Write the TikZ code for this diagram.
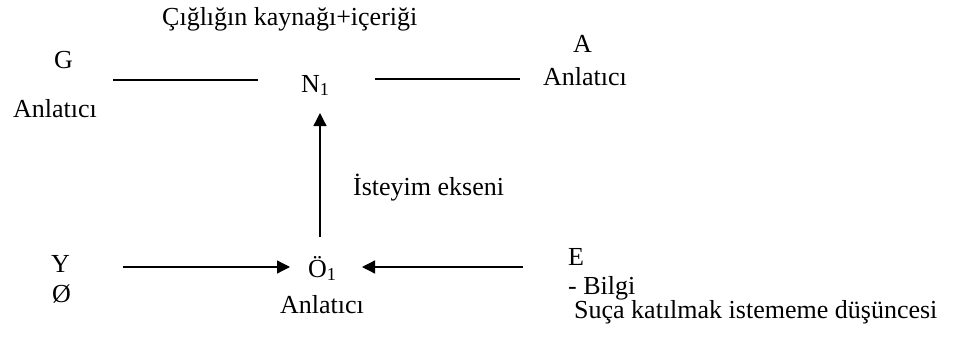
\documentclass[tikz,border=0pt]{standalone}
\usepackage{fontspec}
\setmainfont{Liberation Serif}
\usetikzlibrary{arrows.meta}
\begin{document}
\begin{tikzpicture}[x=1pt,y=-1pt,
  lbl/.style={inner sep=0pt, anchor=base west, font=\fontsize{26}{30}\selectfont},
  conn/.style={line width=1.3pt},
  arr/.style={conn, -{Triangle[length=13pt,width=13pt]}}]
\useasboundingbox (0,0) rectangle (962,338);

% actants
\node[lbl] (title) at (162,25) {Çığlığın kaynağı+içeriği};
\node[lbl] (g) at (54,68) {G};
\node[lbl] (ganl) at (13,117) {Anlatıcı};
\node[lbl] (n1) at (301,92) {N\textsubscript{1}};
\node[lbl] (a) at (573,52) {A};
\node[lbl] (aanl) at (543,85) {Anlatıcı};
\node[lbl] (axis) at (353,195) {İsteyim ekseni};
\node[lbl] (y) at (51,272) {Y};
\node[lbl] (oslash) at (52,302) {Ø};
\node[lbl] (o1) at (308,277) {Ö\textsubscript{1}};
\node[lbl] (oanl) at (280,313) {Anlatıcı};
\node[lbl] (e) at (568,265) {E};
\node[lbl] (bilgi) at (568,294) {- Bilgi};
\node[lbl] (suc) at (574,318) {Suça katılmak istememe düşüncesi};

% connector end points
\coordinate (gn0) at (113,80);
\coordinate (gn1) at (258,80);
\coordinate (na0) at (375,79);
\coordinate (na1) at (520,79);
\coordinate (up0) at (320,237);
\coordinate (up1) at (320,113);
\coordinate (yo0) at (123,267);
\coordinate (yo1) at (290,267);
\coordinate (eo0) at (523,267);
\coordinate (eo1) at (362,267);

% axes
\draw[conn] (gn0) -- (gn1);
\draw[conn] (na0) -- (na1);
\draw[arr] (up0) -- (up1);
\draw[arr] (yo0) -- (yo1);
\draw[arr] (eo0) -- (eo1);
\end{tikzpicture}
\end{document}
